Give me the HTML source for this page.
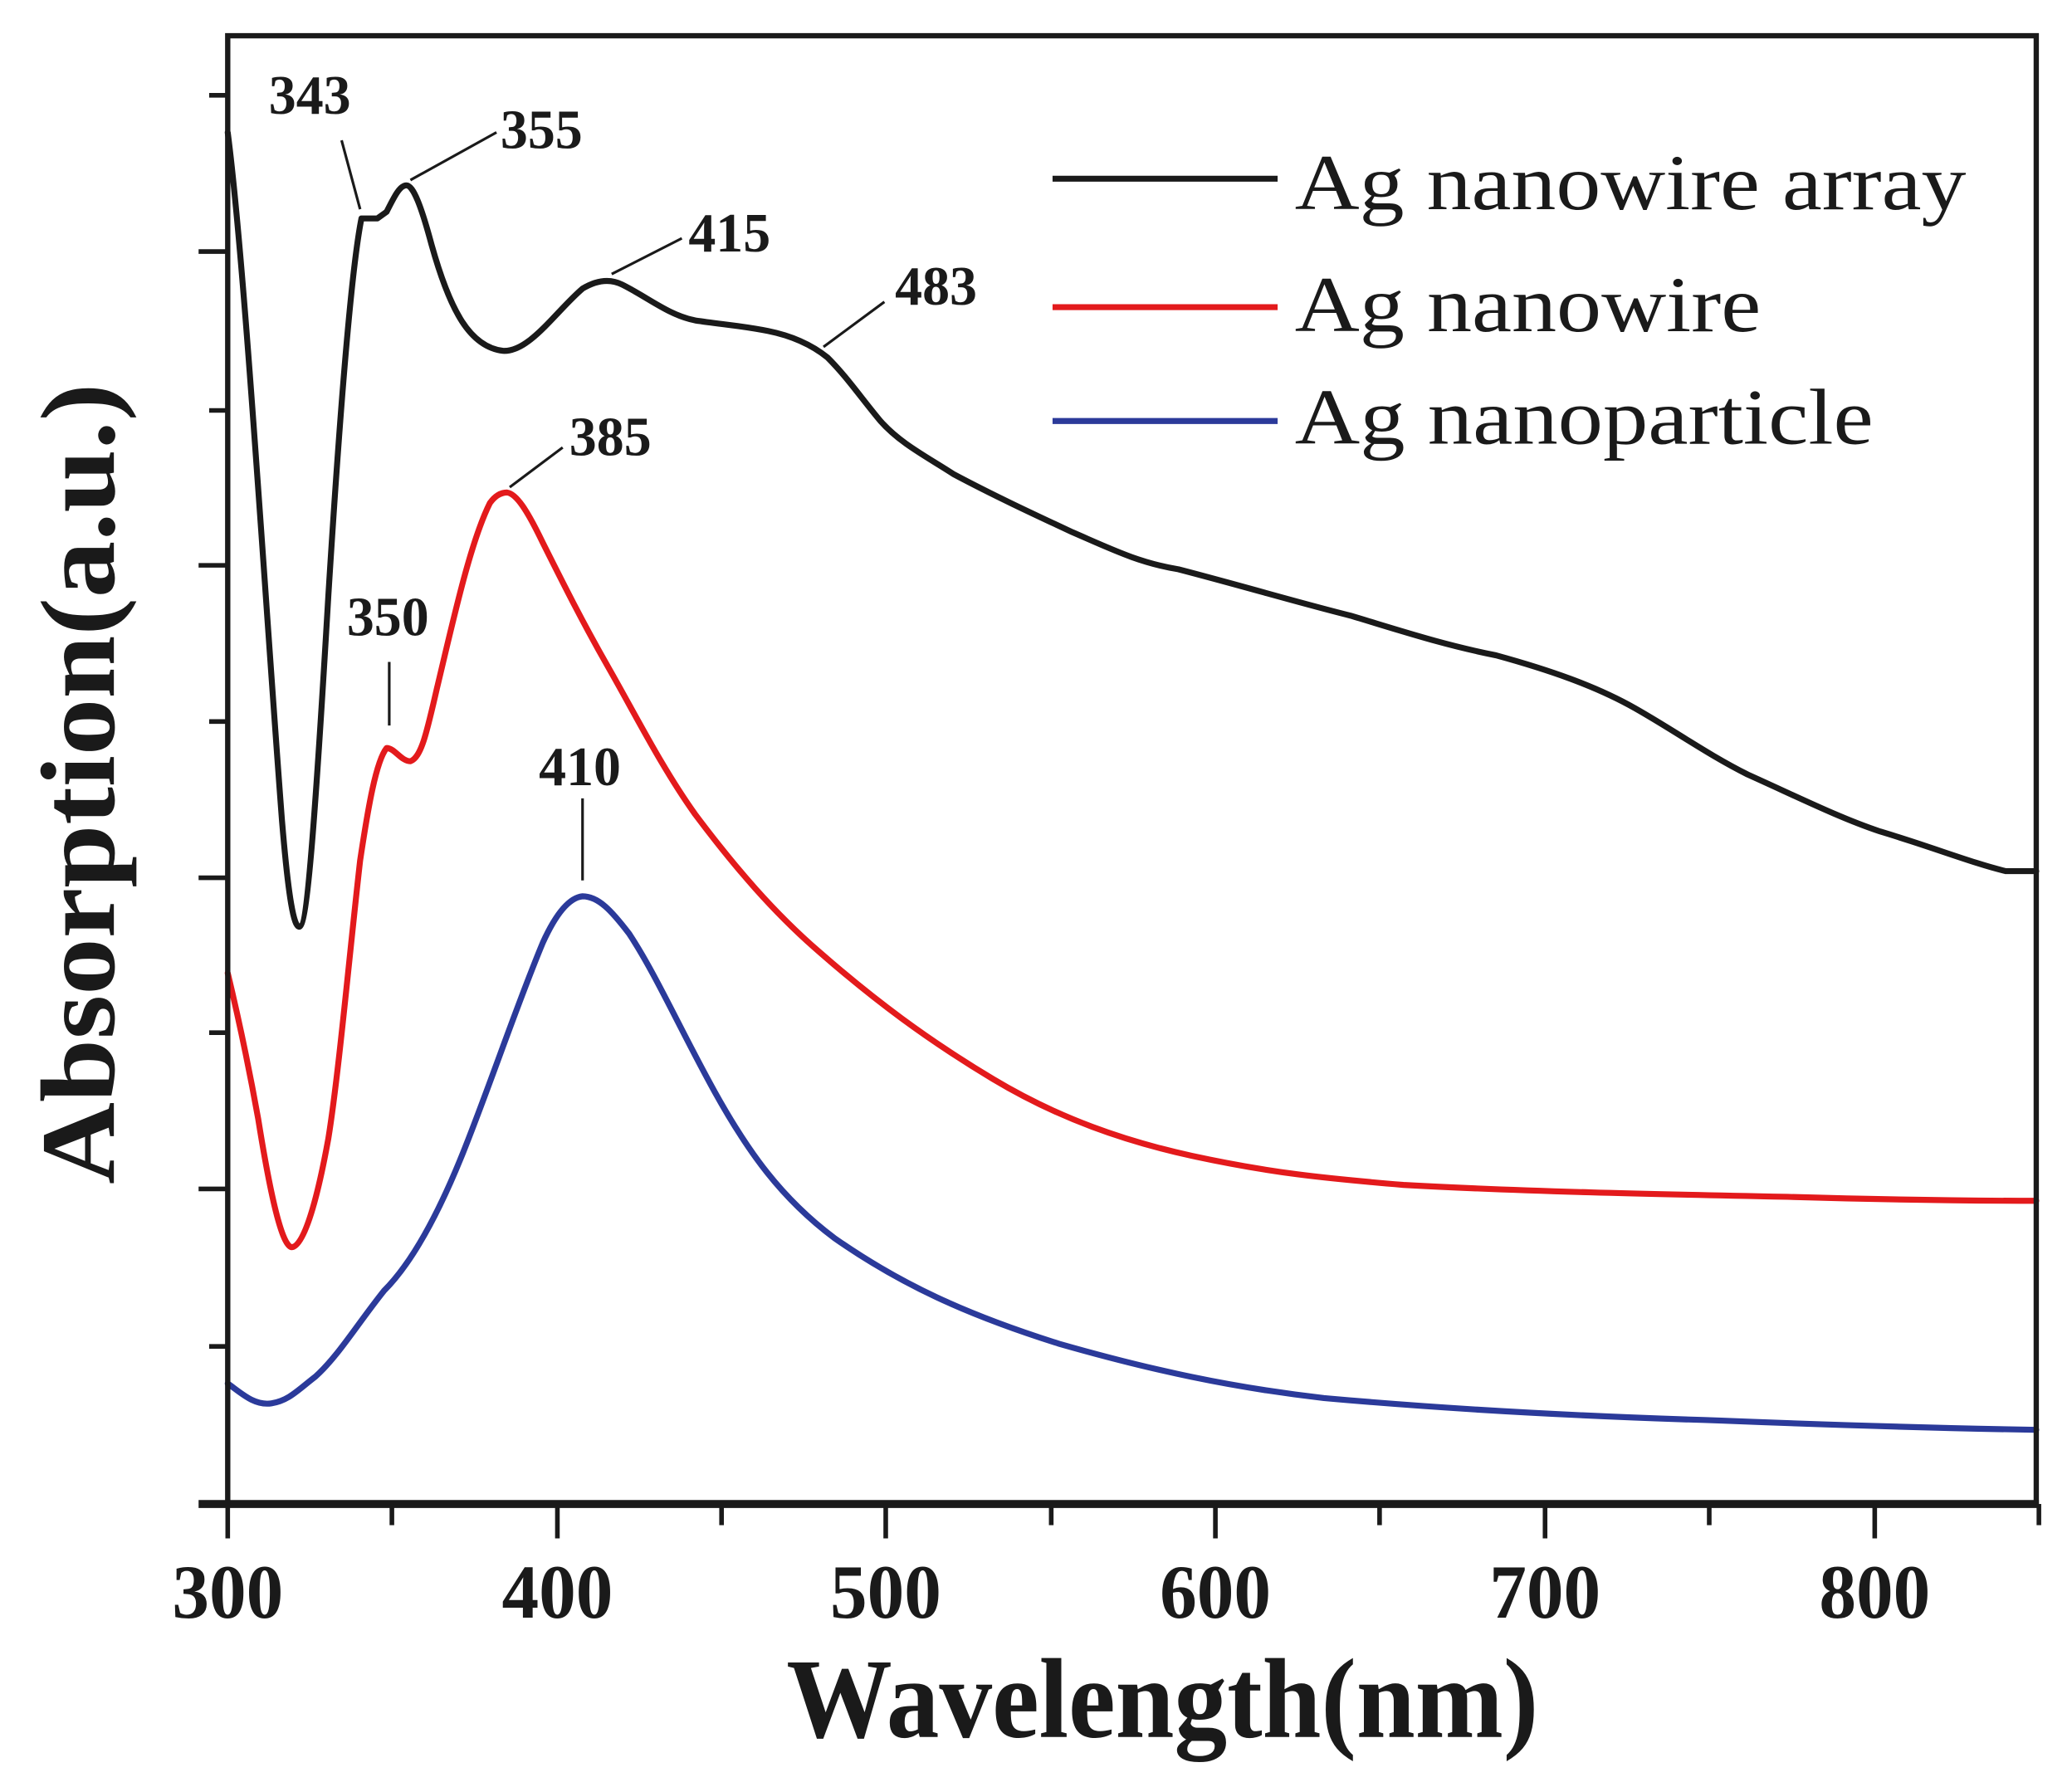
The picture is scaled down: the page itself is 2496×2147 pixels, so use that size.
<!DOCTYPE html>
<html><head><meta charset="utf-8"><style>html,body{margin:0;padding:0;background:#fff}svg{display:block}</style></head>
<body>
<svg width="2496" height="2147" viewBox="0 0 1565 1346" preserveAspectRatio="none" xmlns="http://www.w3.org/2000/svg">
<rect width="1565" height="1346" fill="#fff"/>
<g fill="none" stroke-linejoin="round" stroke-linecap="round" stroke-width="4.5">
<path stroke="#1a1a1a" d="M172,100 C185,200 200,450 213,620 C218,680 222,700 226,700 C232,700 238,620 248,450 C258,290 266,200 273,165 L285,165 L292,160 C298,148 302,140 307,140 C312,140 318,155 326,185 C340,235 355,262 380,265 C400,266 420,235 440,218 C450,212 460,210 470,215 C490,225 505,238 525,242 C545,245 560,246 580,250 C600,254 615,262 625,270 C640,285 650,300 665,318 C680,335 700,345 720,358 C750,374 780,388 810,402 C840,415 860,425 890,430 C940,443 980,455 1020,465 C1060,477 1090,487 1130,495 C1170,506 1205,518 1235,535 C1265,552 1290,570 1320,585 C1360,603 1390,618 1420,628 C1460,640 1490,652 1515,658 L1538,658"/>
<path stroke="#e31a1c" d="M172,735 C178,760 186,795 195,845 C203,895 212,940 220,942 C228,943 238,915 248,860 C256,810 264,720 272,650 C278,610 284,575 292,565 C298,565 303,575 310,575 C318,572 322,555 330,520 C342,470 355,410 370,380 C375,373 380,372 383,372 C390,373 398,385 410,410 C425,440 440,470 460,505 C480,540 500,580 525,615 C555,655 585,690 620,720 C660,755 700,785 750,815 C800,845 850,862 900,873 C960,886 1000,890 1060,895 C1150,900 1250,902 1350,904 C1420,906 1480,907 1538,907"/>
<path stroke="#2b3a9a" d="M172,1045 C182,1052 192,1062 205,1060 C218,1058 225,1050 238,1040 C255,1025 270,1000 290,975 C310,955 330,920 350,870 C370,820 390,760 410,712 C420,690 430,678 440,677 C452,677 462,688 475,705 C495,735 515,780 540,825 C565,870 590,905 630,935 C680,970 730,993 800,1015 C870,1035 930,1048 1000,1056 C1100,1065 1200,1070 1300,1073 C1400,1077 1480,1079 1538,1080"/>
</g>
<g stroke="#1a1a1a" fill="none">
<rect x="172" y="27" width="1366" height="1109" stroke-width="4"/>
<line x1="150" y1="1136" x2="1540" y2="1136" stroke-width="6"/>
<g stroke-width="3.5">
<line x1="158" y1="72" x2="172" y2="72"/><line x1="150" y1="190" x2="172" y2="190"/>
<line x1="158" y1="310" x2="172" y2="310"/><line x1="150" y1="427" x2="172" y2="427"/>
<line x1="158" y1="545" x2="172" y2="545"/><line x1="150" y1="663" x2="172" y2="663"/>
<line x1="158" y1="780" x2="172" y2="780"/><line x1="150" y1="898" x2="172" y2="898"/>
<line x1="158" y1="1017" x2="172" y2="1017"/>
<line x1="172" y1="1136" x2="172" y2="1162"/><line x1="296" y1="1136" x2="296" y2="1152"/>
<line x1="421" y1="1136" x2="421" y2="1162"/><line x1="545" y1="1136" x2="545" y2="1152"/>
<line x1="669" y1="1136" x2="669" y2="1162"/><line x1="794" y1="1136" x2="794" y2="1152"/>
<line x1="918" y1="1136" x2="918" y2="1162"/><line x1="1042" y1="1136" x2="1042" y2="1152"/>
<line x1="1167" y1="1136" x2="1167" y2="1162"/><line x1="1291" y1="1136" x2="1291" y2="1152"/>
<line x1="1416" y1="1136" x2="1416" y2="1162"/><line x1="1540" y1="1136" x2="1540" y2="1152"/>
</g>
<g stroke-width="2">
<line x1="258" y1="106" x2="272" y2="158"/>
<line x1="310" y1="136" x2="375" y2="100"/>
<line x1="462" y1="207" x2="515" y2="180"/>
<line x1="622" y1="262" x2="668" y2="228"/>
<line x1="385" y1="368" x2="425" y2="338"/>
<line x1="294" y1="500" x2="294" y2="548"/>
<line x1="440" y1="603" x2="440" y2="665"/>
</g>
</g>
<g stroke-width="4.5">
<line x1="795" y1="135" x2="965" y2="135" stroke="#1a1a1a"/>
<line x1="795" y1="232" x2="965" y2="232" stroke="#e31a1c"/>
<line x1="795" y1="318" x2="965" y2="318" stroke="#2b3a9a"/>
</g>
<g font-family="Liberation Serif, serif" fill="#1a1a1a">
<g font-size="60"><text x="978" y="158" textLength="507" lengthAdjust="spacingAndGlyphs">Ag nanowire array</text>
<text x="978" y="250" textLength="352" lengthAdjust="spacingAndGlyphs">Ag nanowire</text>
<text x="978" y="335" textLength="437" lengthAdjust="spacingAndGlyphs">Ag nanoparticle</text></g>
<g font-weight="bold" font-size="42">
<text x="203" y="86" textLength="62" lengthAdjust="spacingAndGlyphs">343</text><text x="378" y="112" textLength="62" lengthAdjust="spacingAndGlyphs">355</text><text x="520" y="190" textLength="62" lengthAdjust="spacingAndGlyphs">415</text>
<text x="676" y="230" textLength="62" lengthAdjust="spacingAndGlyphs">483</text><text x="430" y="344" textLength="62" lengthAdjust="spacingAndGlyphs">385</text><text x="262" y="480" textLength="62" lengthAdjust="spacingAndGlyphs">350</text><text x="407" y="593" textLength="62" lengthAdjust="spacingAndGlyphs">410</text>
</g>
<g font-weight="bold" font-size="58" text-anchor="middle">
<text x="172" y="1222" textLength="84" lengthAdjust="spacingAndGlyphs">300</text><text x="421" y="1222" textLength="84" lengthAdjust="spacingAndGlyphs">400</text><text x="669" y="1222" textLength="84" lengthAdjust="spacingAndGlyphs">500</text>
<text x="918" y="1222" textLength="84" lengthAdjust="spacingAndGlyphs">600</text><text x="1167" y="1222" textLength="84" lengthAdjust="spacingAndGlyphs">700</text><text x="1416" y="1222" textLength="84" lengthAdjust="spacingAndGlyphs">800</text>
</g>
<text x="878" y="1312" font-weight="bold" font-size="86" text-anchor="middle" textLength="568" lengthAdjust="spacingAndGlyphs">Wavelength(nm)</text>
<text transform="translate(86,592) rotate(-90)" font-weight="bold" font-size="80" text-anchor="middle" textLength="605" lengthAdjust="spacingAndGlyphs">Absorption(a.u.)</text>
</g>
</svg>
</body></html>
